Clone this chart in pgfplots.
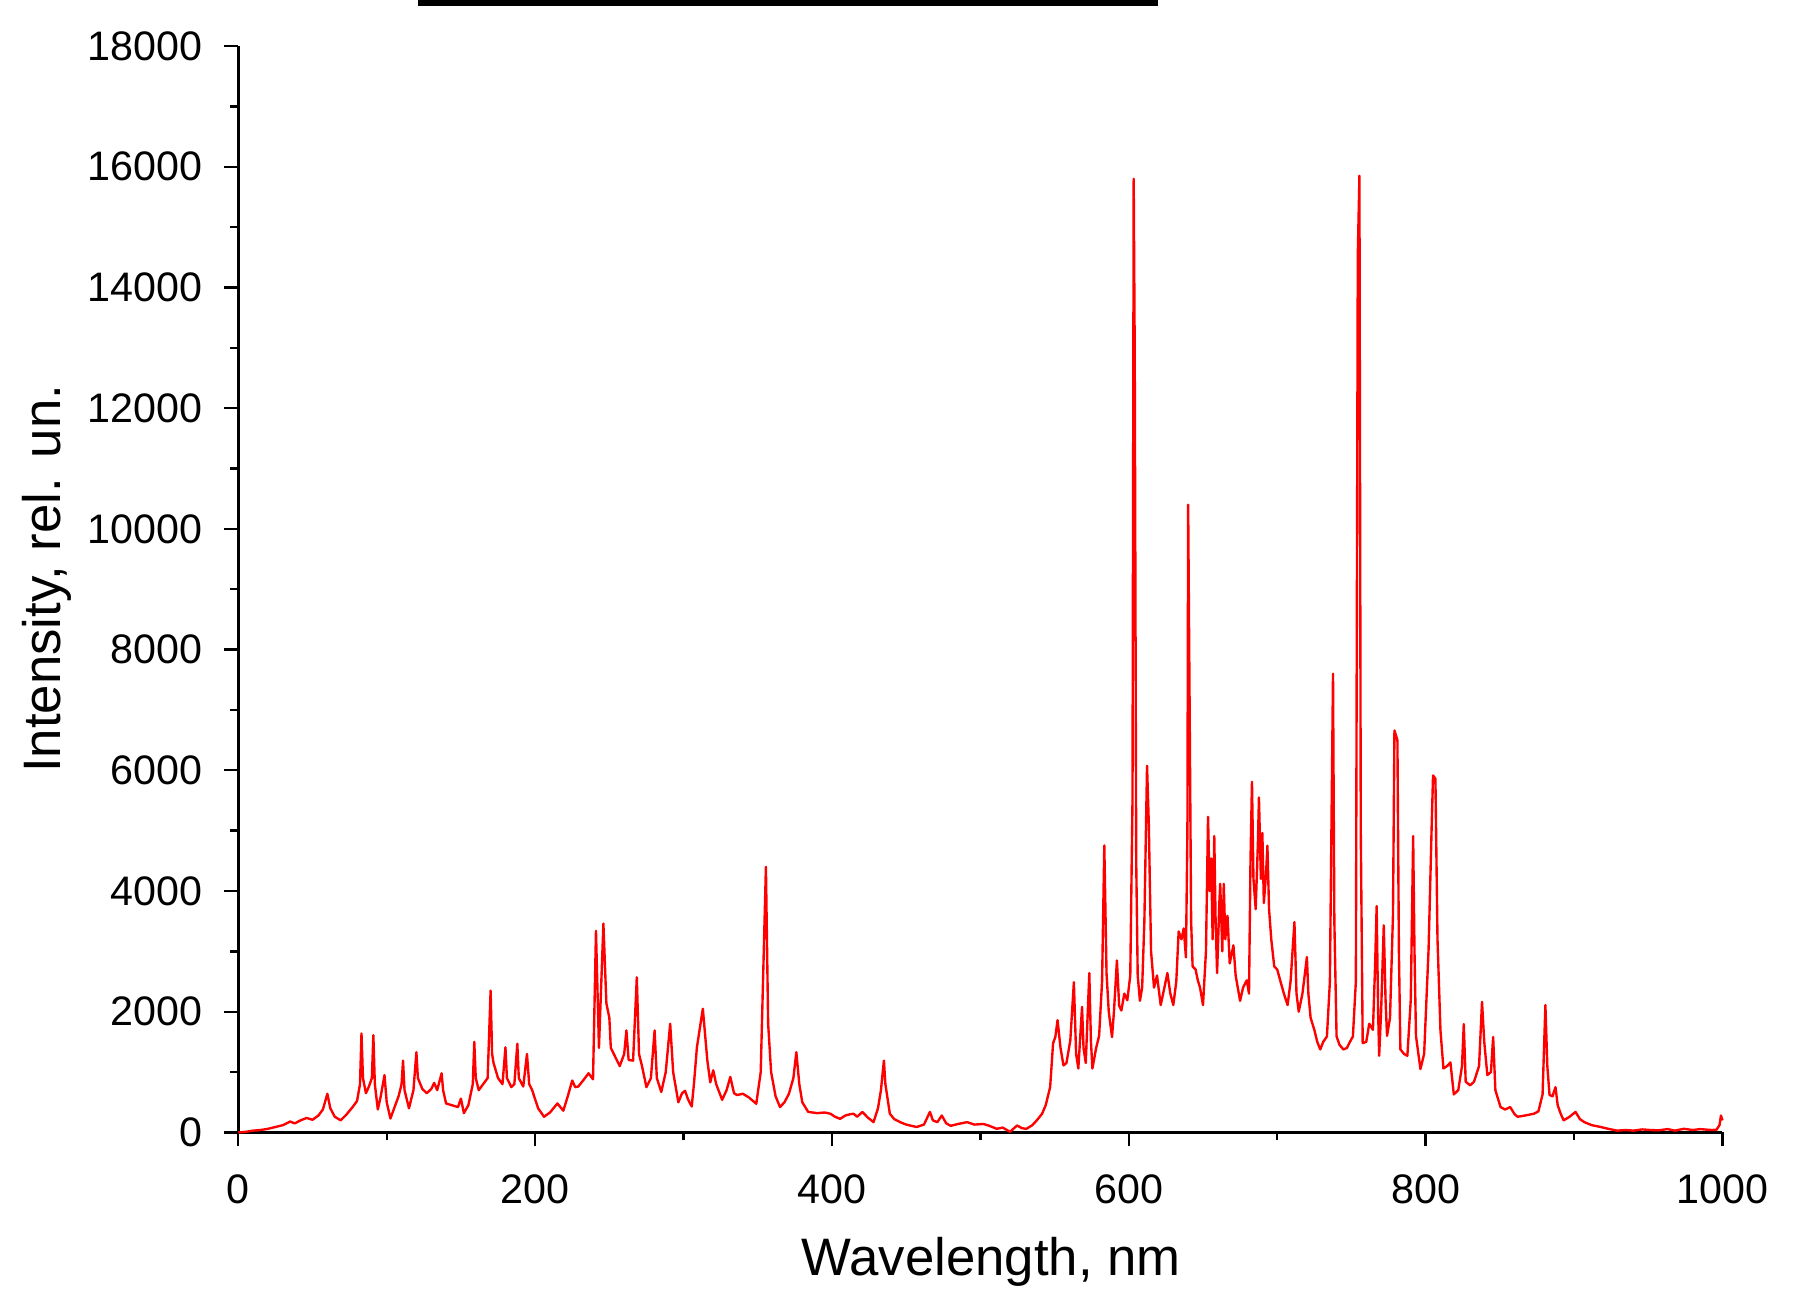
\documentclass[border=0pt]{standalone}
\usepackage{pgfplots}
\pgfplotsset{compat=1.18}
\usepackage{fontspec}
\setmainfont{Liberation Sans}
\usetikzlibrary{calc}

\pgfplotstableread{
x y
0 0
5 10
10 30
15 40
20 60
25 90
30 120
35 180
38 150
42 200
46 240
50 210
54 280
57 380
60 640
62 400
65 260
69 200
73 300
77 420
80 520
82 800
83 1640
84 900
86 650
88 760
90 900
91 1610
92 800
94 380
96 600
98.5 950
100 500
102.5 230
105 400
108 600
110 800
111 1190
112 700
115 400
118 700
120 1330
121 900
124 720
127 650
130 720
132 820
134 700
137 980
138 700
140 480
144 450
148 420
150 560
152 320
155 450
158 800
159 1500
160 900
162 700
165 800
168 900
170 2350
171 1300
172 1150
175 900
178 800
180 1410
181 900
184 750
186 800
188 1470
189 900
192 760
194.5 1300
196 800
198 700
202 400
206 260
210 330
215 480
219 360
222 600
225 860
227 750
229 760
232 850
236 980
239 880
241 3340
243 1400
246 3460
248 2140
250 1900
251 1400
254 1250
257 1100
260 1300
261.5 1690
263 1200
266 1190
268.5 2570
270 1300
272 1100
275 750
278 900
280.5 1690
282 900
285 670
288 1000
291 1800
293 1000
296.5 500
299 650
301 690
303 550
305.5 430
307 800
309 1410
313 2050
316 1200
318 830
320 1030
322 800
326 540
329 700
331.5 920
334 650
336 620
340 640
344 580
349 475
352 1000
355.5 4400
357 1800
359 1000
362 600
365 420
368 500
371 640
374 900
376 1330
378 800
380 500
384 340
390 320
395 330
399 310
402 260
405.5 225
409 280
412 300
414.5 310
417 260
420.5 340
424 250
428 170
431 400
433 700
435 1190
436 800
439 310
442 220
446 170
450 130
457 90
462 130
466 340
468 200
471 170
474 280
477 150
480 110
485 140
491 170
496 130
502 140
506 110
511 60
515 80
520 10
524.7 115
528 70
531 60
535 120
538 200
541.6 310
544 450
547 750
549 1480
550.5 1580
552 1860
554 1400
556 1110
558 1150
560.6 1525
563 2490
564.5 1300
566 1060
568.5 2080
569.5 1400
571 1150
573.4 2640
574.5 1500
575.5 1060
578 1400
580 1600
582 2500
583.5 4755
585 2640
586.5 2000
588.7 1580
590 2000
592 2850
593.5 2100
595 2020
597 2300
599 2190
601 2600
602.5 5500
603.3 15800
604 12890
605 4500
606 2600
607.5 2180
609 2400
610.5 3500
612.3 6075
613.5 5100
615 3000
617 2400
619 2600
621.5 2110
624 2400
626 2640
628 2300
630 2110
632 2500
633.6 3330
635.5 3200
637 3380
638.5 2900
639.5 5000
640 10400
641 7030
642 3500
643 2750
645 2700
646.5 2520
648 2400
650 2110
652 3000
653.4 5230
654.5 4000
655.5 4540
656.5 3200
657.6 4910
658.5 3500
659.5 2640
661 3800
661.6 4120
663 3000
664 4120
665 3200
666.5 3590
668 2800
670.5 3100
672 2600
675 2180
677 2400
679.5 2520
681 2300
682 4500
683 5810
684 4200
685.5 3700
687 4800
687.7 5550
689 4200
690 4960
691 3800
692.5 4300
693.4 4750
694.5 3700
696 3200
698 2750
700 2700
702 2520
704.5 2300
707 2110
709 2500
711.6 3485
713 2300
714.5 2000
717 2300
719 2700
720 2905
721 2300
722.5 1900
725 1700
727 1500
729 1375
731 1500
733.5 1590
735.5 2500
737.6 7600
738.5 3500
740 1590
742 1450
744.6 1375
747 1400
749 1500
751 1590
753 2500
754.3 14530
755.4 15850
756.3 5000
757.6 1480
760 1500
762 1800
764.5 1700
766 2800
767 3750
768 2000
768.7 1270
770 2000
771.8 3430
773 2200
774 1600
776 1900
778 3600
779 6660
781 6500
782 3000
783 1375
785.5 1300
787.7 1270
790 2200
791.6 4910
792.5 3000
793.5 1600
796.5 1050
799 1300
802 3040
804 5000
805 5915
806.6 5860
808 3200
810 1690
812 1060
814.5 1100
816.7 1160
819 630
822 700
824.5 1100
825.7 1795
827 840
830 780
832.6 840
836 1100
838 2165
839.5 1500
841.6 950
844 1000
845.5 1580
847 700
850.5 420
853.5 380
857 420
860 300
862 260
867 280
873 310
876 350
878.8 630
880.7 2110
882 1100
883.5 620
885.5 600
887.5 750
889 450
891 310
893 200
897 260
901 340
904 220
907 170
912 120
918 90
923 60
929 30
935 40
940 30
946 50
951 40
957 35
963 55
968 30
974 60
980 40
985 55
990 45
993 40
996 45
998 120
999 280
1000 200
}\spectrum

\begin{document}
\begin{tikzpicture}
\begin{axis}[
  scale only axis,
  width=374.3pt, height=274pt,
  xmin=0, xmax=1000,
  ymin=0, ymax=18000,
  axis x line=bottom, axis y line=left,
  axis line style={-, line width=0.8pt},
  tick align=outside,
  tick style={black, line width=0.6pt},
  major tick length=3.5pt, minor tick length=2pt,
  xtick={0,200,...,1000}, minor x tick num=1,
  ytick={0,2000,...,18000}, minor y tick num=1,
  scaled y ticks=false,
  /pgf/number format/1000 sep={},
  /pgf/number format/assume math mode=true,
  tick label style={font=\fontsize{10.4}{12}\selectfont, inner sep=0pt},
  xticklabel style={anchor=base, yshift=-14.4pt},
  yticklabel style={anchor=east, xshift=-5.4pt},
  label style={font=\fontsize{13.3}{15}\selectfont},
  xlabel={Wavelength, nm},
  ylabel={Intensity, rel. un.},
  xlabel style={at={(axis description cs:0.5,0)}, anchor=base, yshift=-36.1pt, xshift=2.7pt},
  ylabel style={at={(axis description cs:0,0.5)}, anchor=base, xshift=2.6pt, yshift=44.8pt},
  clip=false,
]
\addplot[color=red, line width=0.6pt, line join=round] table[x=x, y=y] {\spectrum};
\coordinate (O) at (rel axis cs:0,0);
\coordinate (E) at (rel axis cs:1,1);
\end{axis}
\fill[black] ($(O|-E)+(45.4pt,11.6pt)$) rectangle ($(O|-E)+(232pt,10.2pt)$);
\pgfresetboundingbox
\path ($(O)+(-60.1pt,-40.5pt)$) rectangle ($(E)+(18.8pt,11.6pt)$);
\end{tikzpicture}
\end{document}
